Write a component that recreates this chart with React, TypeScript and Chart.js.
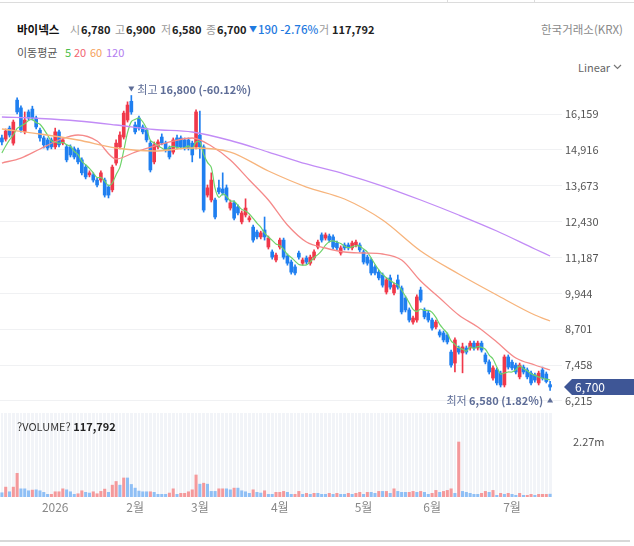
import React, { useEffect, useRef } from 'react';
import { Chart, registerables } from 'chart.js';

Chart.register(...registerables);

const FONT = "'Noto Sans CJK KR', 'Noto Sans', sans-serif";

// ---- daily candles (KRW) ----
const opens = [15330,15290,15670,15150,16640,16370,15540,16230,16330,16020,
15600,15330,15260,15260,15020,15540,15150,15020,15020,14950,
14910,14570,14320,14050,14050,13870,13870,13870,13630,13530,
14460,15020,15360,15950,16600,15780,16020,15710,15600,15150,
14500,15020,15360,15150,14980,14840,15330,15330,15260,15260,
15150,15020,15430,15020,13350,13180,13180,13600,13560,13600,
12900,13080,12940,12420,12660,12490,12240,12070,11900,12140,
11550,11380,11100,11550,11790,11240,11030,10860,11340,10990,
11170,10990,11170,11550,11970,11860,11930,11900,11690,11340,
11620,11620,11520,11620,11620,11380,11200,11100,10860,10680,
10580,9990,10480,9960,10410,10130,9780,9370,8950,9020,
10060,9370,9260,9020,8780,8610,8570,8500,7910,7530,
8050,7880,8050,8050,8220,8050,8220,7810,7570,7010,
7290,7180,6770,7740,7560,7460,7050,7390,7290,7180,
7120,6840,7290,7150,6780];

const highs = [15430,15640,15740,15950,16720,16440,16230,16300,16430,16090,
15670,15400,15330,15330,15670,15600,15330,15090,15090,15020,
14980,14640,14390,14190,14120,13940,14190,13940,13700,14390,
15260,15540,16260,16580,16800,15880,16090,15780,15670,15220,
15190,15260,15470,15220,15050,15330,15430,15400,15330,15330,
15220,16300,16260,15090,13700,14120,13250,13870,14120,13700,
13180,13150,13010,12800,13220,12630,12310,12140,12100,12590,
11930,11450,11340,11860,11860,11310,11100,10930,11410,11170,
11240,11270,11450,11790,12040,12040,12000,11970,11760,11590,
11690,11690,11760,11790,11690,11450,11270,11170,10930,10750,
10650,10480,10580,10300,10580,10200,9850,9440,9160,9890,
10160,9440,9330,9090,9020,8680,8640,8570,7980,8400,
8120,8220,8120,8290,8290,8290,8290,7880,7640,7430,
7360,7250,7810,7810,7630,7530,7530,7460,7360,7250,
7180,7250,7390,7220,6900];

const lows = [15090,15220,15360,15080,16160,15530,15470,15950,15950,15640,
15220,14980,14910,14950,14950,15020,15090,14500,14670,14600,
14430,14050,13910,13980,13800,13630,13800,13280,13250,13460,
14390,14950,15290,15880,16150,15470,15600,15470,15190,14150,
14430,14950,15090,14840,14600,14770,14950,14950,14910,14910,
14500,14950,14630,12760,13280,13110,12520,13390,13350,13110,
12830,12490,12660,12350,12590,12420,11720,11830,11830,11790,
11480,11130,11030,11480,11130,10920,10610,10580,11130,10920,
10960,10920,11100,11480,11720,11790,11720,11480,11450,11270,
11450,11450,11450,11550,11380,10960,10920,10580,10580,10410,
10160,9920,10090,9890,10090,9230,9300,8950,8880,8950,
9640,9060,8950,8670,8710,8430,8260,8190,7390,7220,
7840,7190,7840,7980,7980,7980,7910,7500,7150,6940,
6770,6700,6700,7320,7290,7150,6980,7150,6980,6770,
6870,6770,6940,6840,6580];

const closes = [15190,15570,15430,15880,16230,15600,15950,16020,16020,15710,
15330,15090,14980,15020,15540,15090,15260,14570,14740,14670,
14500,14120,13980,14120,13870,13700,14120,13350,13350,14320,
15150,15430,16190,16470,16230,15540,15670,15540,15260,14220,
15090,15190,15150,14910,14670,15260,15020,15020,14980,14980,
14740,16230,15020,12830,13600,13870,12590,13460,13420,13180,
13080,12550,12730,12730,12900,12560,11790,11900,12040,11900,
11860,11200,11270,11790,11200,10990,10680,10650,11200,11100,
11030,11200,11380,11720,11790,11970,11790,11550,11520,11520,
11520,11520,11690,11720,11450,11030,10990,10650,10650,10480,
10230,10410,10160,10230,10160,9300,9370,9020,9090,9820,
9710,9130,9020,8740,8950,8500,8330,8260,7460,8330,
7910,8090,7910,8220,8050,8220,7980,7570,7220,7360,
6840,6770,7740,7390,7360,7220,7460,7220,7050,6840,
6940,7180,7010,6890,6700];

const volumes = [175000,408000,216000,408000,978000,338000,338000,257000,285000,297000,
257000,192000,110000,110000,216000,216000,338000,297000,216000,110000,
134000,257000,192000,163000,216000,134000,232000,326000,192000,489000,
640000,489000,786000,786000,518000,367000,245000,216000,216000,216000,
192000,110000,110000,110000,163000,338000,110000,151000,151000,216000,
297000,909000,530000,570000,530000,232000,232000,338000,338000,338000,
297000,367000,367000,257000,216000,151000,297000,192000,163000,257000,
110000,110000,192000,192000,232000,192000,110000,110000,232000,110000,
151000,110000,151000,151000,110000,110000,151000,110000,151000,110000,
110000,151000,110000,151000,192000,110000,192000,192000,151000,232000,
232000,232000,151000,338000,232000,192000,192000,192000,232000,192000,
232000,192000,110000,151000,273000,192000,232000,273000,338000,151000,
2270000,232000,192000,151000,110000,110000,151000,232000,192000,273000,
70000,151000,110000,151000,110000,70000,151000,70000,70000,110000,
70000,110000,110000,110000,117792];

// volume bar direction as drawn (r = up, b = down)
const volumeDir = 'brbrrbbbrb' + 'bbbrrrrbbb' + 'rrbbrrrrbr' + 'rbrbbbbbbr' + 'bbbbrrbrrr' +
  'rrbrbbbrrb' + 'brbbbbrbbr' + 'bbrrrbbrrb' + 'rbrbbbrbrb' + 'brbrrbrbbr' +
  'brbrbbbrrb' + 'rbbrrbrrrb' + 'rbbbbbrrbr' + 'brbrbbrbrr' + 'brrrb';

// ---- moving averages ----
const ma5Lead = [14810, 15050, 15260, 15430];
const ma20Idx = [0,5,10,15,20,25,30,35,40,45,50,55,60,65,70,75,80,85,90,95,100,105,110,115,120,125,130,135,140,144];
const ma20Val = [14461,14634,14946,15258,15431,15223,14600,14842,15050,15223,15327,15050,14565,13872,13179,12313,11724,11516,11377,11343,11308,11100,10372,9783,9194,8779,8259,7705,7462,7289];
const maLongIdx = [0,10,20,30,40,50,60,70,80,90,100,110,120,130,140,144];
const ma60Val = [15639,15466,15258,14981,14877,14981,14842,14184,13629,13214,12486,11412,10615,9887,9194,8987];
const ma120Val = [16055,16003,15916,15778,15622,15535,15241,14842,14427,14080,13664,13179,12659,12105,11481,11239];

// ---- axes ----
const priceTicks = [6215, 7458, 8701, 9944, 11187, 12430, 13673, 14916, 16159];
const volumeTicks = [2270000];
const volumeTickLabels = ['2.27m'];
const monthTickIdx = [14, 35, 52, 73, 95, 113, 134];
const monthTickText = ['2026', '2월', '3월', '4월', '5월', '6월', '7월'];

const RED = '#f0384a';
const BLUE = '#1f7ff0';
const VRED = '#f4999b';
const VBLUE = '#8fbff5';
const TAG = '#3e5696';
const NOTE = '#5e6d97';

function sparse(idx: number[], vals: number[], n: number) {
  const arr: (number | null)[] = new Array(n).fill(null);
  idx.forEach((k, j) => { arr[k] = vals[j]; });
  return arr;
}

const noPad = (s: any) => { s.paddingTop = 0; s.paddingBottom = 0; s.paddingLeft = 0; s.paddingRight = 0; };

export default function App() {
  const priceRef = useRef<HTMLCanvasElement>(null);
  const volRef = useRef<HTMLCanvasElement>(null);

  useEffect(() => {
    Chart.defaults.font.family = FONT;
    const n = closes.length;
    const labels = closes.map((_, i) => String(i));
    const cColors = closes.map((c, i) => (c >= opens[i] ? RED : BLUE));
    const vColors = volumes.map((_, i) => (volumeDir[i] === 'r' ? VRED : VBLUE));
    const ma5 = closes.map((_, i) => {
      if (i < 4) return ma5Lead[i];
      let s = 0;
      for (let k = i - 4; k <= i; k++) s += closes[k];
      return s / 5;
    });

    let hi = 0; highs.forEach((h, i) => { if (h > highs[hi]) hi = i; });
    let lo = 0; lows.forEach((l, i) => { if (l < lows[lo]) lo = i; });
    const last = closes[n - 1];
    const fmt = (v: number) => Math.round(v).toLocaleString('en-US');

    const priceOverlay = {
      id: 'priceOverlay',
      afterDraw(chart: any) {
        const { ctx, chartArea } = chart;
        const x = chart.scales.x, y = chart.scales.y;
        ctx.save();
        const xh = x.getPixelForValue(hi), yh = y.getPixelForValue(highs[hi]);
        ctx.fillStyle = NOTE;
        ctx.beginPath();
        ctx.moveTo(xh - 3, yh - 9); ctx.lineTo(xh + 3, yh - 9); ctx.lineTo(xh, yh - 4); ctx.closePath(); ctx.fill();
        ctx.textBaseline = 'middle';
        ctx.textAlign = 'left';
        ctx.font = `11px ${FONT}`;
        const t1 = '최고 ';
        ctx.fillText(t1, xh + 6, yh - 6);
        const w1 = ctx.measureText(t1).width;
        ctx.font = `bold 11px ${FONT}`;
        const pctH = ((last / highs[hi] - 1) * 100).toFixed(2);
        ctx.fillText(`${fmt(highs[hi])} (${pctH}%)`, xh + 6 + w1, yh - 6);
        const xl = x.getPixelForValue(lo), yl = y.getPixelForValue(lows[lo]);
        ctx.beginPath();
        ctx.moveTo(xl - 3, yl + 12); ctx.lineTo(xl + 3, yl + 12); ctx.lineTo(xl, yl + 7); ctx.closePath(); ctx.fill();
        ctx.textAlign = 'right';
        const pctL = ((last / lows[lo] - 1) * 100).toFixed(2);
        const t2 = `${fmt(lows[lo])} (${pctL}%)`;
        ctx.font = `bold 11px ${FONT}`;
        ctx.fillText(t2, xl - 7, yl + 10);
        const w2 = ctx.measureText(t2).width;
        ctx.font = `11px ${FONT}`;
        ctx.fillText('최저 ', xl - 7 - w2, yl + 10);
        const yc = y.getPixelForValue(last);
        const tip = chartArea.right + 12;
        ctx.fillStyle = TAG;
        ctx.beginPath();
        ctx.moveTo(tip, yc);
        ctx.lineTo(tip + 8, yc - 8);
        ctx.lineTo(chart.width, yc - 8);
        ctx.lineTo(chart.width, yc + 8);
        ctx.lineTo(tip + 8, yc + 8);
        ctx.closePath();
        ctx.fill();
        ctx.fillStyle = '#ffffff';
        ctx.textAlign = 'left';
        ctx.font = `12px ${FONT}`;
        ctx.fillText(fmt(last), tip + 11, yc + 0.5);
        ctx.restore();
      },
    };

    const pc = new Chart(priceRef.current as HTMLCanvasElement, {
      type: 'bar',
      data: {
        labels,
        datasets: [
          { type: 'line', data: sparse(maLongIdx, ma120Val, n), borderColor: '#c28cf6', borderWidth: 1.3, pointRadius: 0, spanGaps: true, cubicInterpolationMode: 'monotone', order: 0 } as any,
          { type: 'line', data: sparse(maLongIdx, ma60Val, n), borderColor: '#f7b47c', borderWidth: 1.3, pointRadius: 0, spanGaps: true, cubicInterpolationMode: 'monotone', order: 0 } as any,
          { type: 'line', data: sparse(ma20Idx, ma20Val, n), borderColor: '#f58a8a', borderWidth: 1.3, pointRadius: 0, spanGaps: true, cubicInterpolationMode: 'monotone', order: 0 } as any,
          { type: 'line', data: ma5, borderColor: '#6fd36a', borderWidth: 1.2, pointRadius: 0, tension: 0.3, order: 0 } as any,
          { type: 'bar', data: lows.map((l, i) => [l, highs[i]]), backgroundColor: cColors, barThickness: 1, grouped: false, order: 2 } as any,
          { type: 'bar', data: opens.map((o, i) => [Math.min(o, closes[i]), Math.max(o, closes[i])]), backgroundColor: cColors, barThickness: 3, grouped: false, minBarLength: 1, order: 1 } as any,
        ],
      },
      options: {
        responsive: false,
        maintainAspectRatio: false,
        animation: false,
        events: [],
        layout: { padding: { top: 8, bottom: 8, left: 0, right: 0 } },
        plugins: { legend: { display: false }, tooltip: { enabled: false } },
        scales: {
          x: { display: false, offset: true, grid: { display: false } },
          y: {
            position: 'right',
            min: 6076,
            max: 17164,
            afterBuildTicks: (s: any) => { s.ticks = priceTicks.map(v => ({ value: v })); },
            afterFit: (s: any) => { s.width = 82; noPad(s); },
            grid: { color: '#f0f1f3', drawTicks: true, tickLength: 10, tickColor: '#f0f1f3' },
            border: { display: false },
            ticks: { padding: 3, color: '#555', font: { size: 11 }, callback: (v: any) => fmt(Number(v)) },
          },
        },
      } as any,
      plugins: [priceOverlay],
    });

    const volBg = {
      id: 'volBg',
      beforeDraw(chart: any) {
        const { ctx, chartArea } = chart;
        ctx.save();
        ctx.fillStyle = '#f2f4f8';
        ctx.fillRect(chartArea.left, chartArea.top, chartArea.right - chartArea.left, chartArea.bottom - chartArea.top);
        ctx.restore();
      },
    };

    const vc = new Chart(volRef.current as HTMLCanvasElement, {
      type: 'bar',
      data: {
        labels,
        datasets: [
          { data: volumes, backgroundColor: vColors, barThickness: 2.4, minBarLength: 1 } as any,
        ],
      },
      options: {
        responsive: false,
        maintainAspectRatio: false,
        animation: false,
        events: [],
        layout: { padding: { top: 8, bottom: 0, left: 0, right: 0 } },
        plugins: { legend: { display: false }, tooltip: { enabled: false } },
        scales: {
          x: {
            offset: true,
            afterFit: (s: any) => { s.height = 28; noPad(s); },
            grid: { display: true, color: '#ffffff', lineWidth: 1, drawTicks: false, offset: true },
            border: { display: false },
            ticks: {
              autoSkip: false, maxRotation: 0, minRotation: 0, padding: 3, color: '#888', font: { size: 12 },
              callback: (_v: any, i: number) => { const k = monthTickIdx.indexOf(i); return k >= 0 ? monthTickText[k] : ''; },
            },
          },
          y: {
            position: 'right',
            min: 0,
            max: 3467000,
            afterBuildTicks: (s: any) => { s.ticks = volumeTicks.map(v => ({ value: v })); },
            afterFit: (s: any) => { s.width = 82; noPad(s); },
            grid: { display: false },
            border: { display: false },
            ticks: { padding: 13, color: '#555', font: { size: 11 }, callback: (v: any) => { const k = volumeTicks.indexOf(Number(v)); return k >= 0 ? volumeTickLabels[k] : ''; } },
          },
        },
      } as any,
      plugins: [volBg],
    });

    return () => { pc.destroy(); vc.destroy(); };
  }, []);

  const abs = (left: number, top: number, style: React.CSSProperties = {}): React.CSSProperties => ({
    position: 'absolute', left, top, whiteSpace: 'nowrap', lineHeight: '14px', fontSize: 11, ...style,
  });
  const label = { color: '#9a9a9a' };
  const num = { color: '#222', fontWeight: 700, fontSize: 11 };

  return (
    <div style={{ position: 'fixed', left: 0, top: 0, width: 634, height: 546, background: '#fff', fontFamily: FONT, overflow: 'hidden' }}>
      <div style={{ position: 'absolute', left: 0, top: 2, width: 634, height: 1, background: '#dcdcdc' }} />
      <div style={{ position: 'absolute', left: 447, top: 0, width: 1, height: 3, background: '#dcdcdc' }} />
      <div style={{ position: 'absolute', left: 534, top: 0, width: 1, height: 3, background: '#dcdcdc' }} />

      <span style={abs(17, 22, { fontWeight: 700, color: '#111', fontSize: 11.5 })}>바이넥스</span>
      <span style={abs(70, 22, label)}>시</span>
      <span style={abs(81, 22, num)}>6,780</span>
      <span style={abs(115, 22, label)}>고</span>
      <span style={abs(126, 22, num)}>6,900</span>
      <span style={abs(161, 22, label)}>저</span>
      <span style={abs(172, 22, num)}>6,580</span>
      <span style={abs(206, 22, label)}>종</span>
      <span style={abs(217, 22, num)}>6,700</span>
      <span style={abs(249, 22, { color: '#1f7ae0', fontSize: 8 })}>▼</span>
      <span style={abs(258, 22, { color: '#1f7ae0', fontSize: 11.5, fontWeight: 500 })}>190 -2.76%</span>
      <span style={abs(319, 22, label)}>거</span>
      <span style={abs(332, 22, num)}>117,792</span>
      <span style={abs(541, 22, { color: '#8a8a8a', fontSize: 11.5 })}>한국거래소(KRX)</span>

      <span style={abs(17, 45, { color: '#555' })}>이동평균</span>
      <span style={abs(65, 45, { color: '#4cbf4c' })}>5</span>
      <span style={abs(74, 45, { color: '#f26470' })}>20</span>
      <span style={abs(90, 45, { color: '#f5a05a' })}>60</span>
      <span style={abs(106, 45, { color: '#b27cf0' })}>120</span>

      <span style={abs(578, 60, { color: '#666' })}>Linear</span>
      <svg style={{ position: 'absolute', left: 613, top: 64 }} width="9" height="6">
        <polyline points="1,1 4.5,4.5 8,1" fill="none" stroke="#777" strokeWidth="1.2" />
      </svg>

      <canvas ref={priceRef} width={634} height={336} style={{ position: 'absolute', left: 0, top: 77, width: 634, height: 336 }} />
      <canvas ref={volRef} width={634} height={120} style={{ position: 'absolute', left: 0, top: 405, width: 634, height: 120 }} />

      <span style={abs(17, 419, { color: '#333' })}>?VOLUME? <b style={{ color: '#222' }}>117,792</b></span>

      <div style={{ position: 'absolute', left: 0, top: 540, width: 630, height: 1.5, background: '#d8d8d8' }} />
    </div>
  );
}
